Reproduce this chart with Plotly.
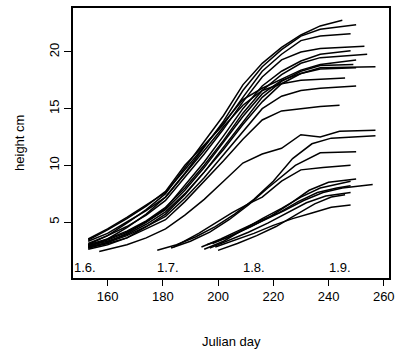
import plotly.graph_objects as go

# ---------------- data ----------------
grid = [153, 160, 167, 174, 181, 188, 195, 202, 209, 216, 223, 230, 237]

# early-sown plants (upper bundle)
u1_days = grid + [245]
u1_h = [3.0, 3.8, 4.9, 6.1, 7.5, 9.8, 12.0, 14.4, 17.1, 19.0, 20.4, 21.5, 22.3, 22.8]
u2_days = grid + [250]
u2_h = [2.8, 3.5, 4.5, 5.7, 7.2, 9.3, 11.6, 13.9, 16.6, 18.7, 20.2, 21.4, 22.0, 22.4]
u3_days = grid + [248]
u3_h = [3.4, 4.3, 5.3, 6.4, 7.7, 10.0, 11.8, 13.6, 16.0, 18.3, 19.8, 21.0, 21.4, 21.6]
u4_days = grid + [253]
u4_h = [3.1, 3.8, 4.6, 5.6, 6.9, 8.9, 11.0, 13.2, 15.6, 17.8, 19.3, 20.0, 20.3, 20.5]
u5_days = grid + [248]
u5_h = [2.7, 3.2, 4.0, 5.0, 6.2, 8.2, 10.3, 12.6, 15.0, 17.0, 18.3, 19.2, 19.8, 20.1]
u6_days = grid + [254]
u6_h = [3.0, 3.5, 4.2, 5.1, 6.3, 8.0, 10.0, 12.2, 14.6, 16.6, 18.0, 19.0, 19.5, 19.8]
u7_days = grid + [250]
u7_h = [3.5, 4.4, 5.4, 6.5, 7.6, 9.6, 11.7, 13.8, 15.8, 16.8, 17.6, 18.4, 18.9, 19.3]
u8_days = grid + [249]
u8_h = [2.6, 3.0, 3.6, 4.6, 5.7, 7.4, 9.4, 11.6, 13.9, 16.0, 17.4, 18.3, 18.8, 18.9]
u9_days = grid + [257]
u9_h = [2.9, 3.3, 3.9, 4.8, 5.9, 7.5, 9.4, 11.4, 13.6, 15.6, 17.2, 18.1, 18.6, 18.7]
u10_days = grid + [250]
u10_h = [2.9, 3.4, 4.1, 5.0, 6.1, 7.8, 9.8, 12.0, 14.3, 16.3, 17.5, 18.1, 18.5, 18.6]
u11_days = grid + [246]
u11_h = [3.3, 4.0, 5.0, 6.0, 7.2, 9.2, 11.3, 13.4, 15.3, 16.6, 17.2, 17.5, 17.6, 17.7]
u12_days = grid + [250]
u12_h = [2.8, 3.2, 3.8, 4.6, 5.5, 7.1, 8.9, 10.9, 13.0, 15.0, 16.1, 16.6, 16.8, 17.0]
u13_days = grid + [244]
u13_h = [2.7, 3.1, 3.6, 4.4, 5.2, 6.8, 8.6, 10.4, 12.3, 14.0, 14.8, 15.0, 15.2, 15.3]
u14_days = [157, 167, 174, 181, 188, 195, 202, 209, 216, 223, 230, 237, 244, 257]
u14_h = [2.4, 3.0, 3.6, 4.4, 5.6, 7.0, 8.6, 10.2, 11.0, 11.5, 12.7, 12.5, 13.0, 13.1]

# later-sown plants (lower bundle)
l1_days = [178, 185, 192, 199, 206, 213, 220, 227, 234, 241, 257]
l1_h = [2.5, 3.0, 3.7, 4.6, 5.7, 7.0, 8.6, 10.6, 11.9, 12.4, 12.6]
l2_days = [183, 190, 197, 204, 211, 218, 228, 237, 250]
l2_h = [2.7, 3.3, 4.1, 5.2, 6.5, 8.0, 10.0, 11.1, 11.2]
l3_days = [184, 193, 199, 205, 211, 216, 223, 230, 238, 248]
l3_h = [2.8, 4.0, 4.9, 5.8, 6.6, 7.2, 8.6, 9.6, 9.8, 10.0]
l4_days = [195, 202, 209, 216, 223, 230, 237, 248]
l4_h = [2.6, 3.3, 4.3, 5.3, 6.2, 7.2, 8.0, 8.6]
l5_days = [196, 203, 210, 217, 224, 231, 238, 245, 256]
l5_h = [3.0, 3.6, 4.4, 5.2, 6.0, 6.9, 7.6, 8.0, 8.3]
l6_days = [197, 204, 211, 218, 225, 232, 239, 248]
l6_h = [2.7, 3.4, 4.1, 4.9, 5.8, 6.7, 7.3, 7.6]
l7_days = [199, 206, 213, 220, 227, 234, 241, 248]
l7_h = [2.8, 3.4, 4.0, 4.7, 5.3, 5.8, 6.3, 6.5]
l8_days = [194, 201, 208, 215, 222, 229, 236, 243, 248]
l8_h = [2.8, 3.5, 4.3, 5.1, 5.8, 6.8, 7.6, 8.0, 8.2]
l9_days = [198, 205, 212, 219, 226, 233, 240, 250]
l9_h = [3.1, 3.8, 4.6, 5.5, 6.6, 7.8, 8.5, 8.8]
l10_days = [200, 207, 214, 221, 228, 235, 241, 246]
l10_h = [2.5, 3.1, 3.8, 4.6, 5.6, 6.6, 7.2, 7.4]

x_ticks = [160, 180, 200, 220, 240, 260]
y_ticks = [5, 10, 15, 20]
date_days = [152, 182, 213, 244]
date_labels = ["1.6.", "1.7.", "1.8.", "1.9."]
x_title = "Julian day"
y_title = "height cm"

curves = [
    (u1_days, u1_h), (u2_days, u2_h), (u3_days, u3_h), (u4_days, u4_h),
    (u5_days, u5_h), (u6_days, u6_h), (u7_days, u7_h), (u8_days, u8_h),
    (u9_days, u9_h), (u10_days, u10_h), (u11_days, u11_h), (u12_days, u12_h),
    (u13_days, u13_h), (u14_days, u14_h),
    (l1_days, l1_h), (l2_days, l2_h), (l3_days, l3_h), (l4_days, l4_h),
    (l5_days, l5_h), (l6_days, l6_h), (l7_days, l7_h), (l8_days, l8_h),
    (l9_days, l9_h), (l10_days, l10_h),
]

FONT = "Liberation Sans, Arial, sans-serif"

fig = go.Figure()
for d, h in curves:
    fig.add_trace(go.Scatter(x=d, y=h, mode="lines",
                             line=dict(color="black", width=1.5),
                             showlegend=False, hoverinfo="skip"))

for d, lab in zip(date_days, date_labels):
    fig.add_annotation(x=d, y=0.95, text=lab, showarrow=False,
                       xanchor="center", yanchor="middle",
                       font=dict(family=FONT, size=13, color="#000000"))

# axis titles placed as paper-anchored text
fig.add_annotation(x=0.5, y=-0.237, xref="paper", yref="paper", text=x_title,
                   showarrow=False, xanchor="center", yanchor="middle",
                   font=dict(family=FONT, size=13, color="#000000"))
fig.add_annotation(x=-0.171, y=0.5, xref="paper", yref="paper", text=y_title,
                   showarrow=False, xanchor="center", yanchor="middle",
                   textangle=-90,
                   font=dict(family=FONT, size=13, color="#000000"))

fig.update_layout(
    width=396, height=351,
    margin=dict(l=73, r=7, t=8, b=73),
    paper_bgcolor="white", plot_bgcolor="white",
    font=dict(family=FONT, size=13, color="black"),
    showlegend=False,
)
fig.update_xaxes(
    range=[147.5, 261.9], tickvals=x_ticks, ticks="outside", ticklen=6,
    tickwidth=1.3, tickcolor="black", showgrid=False, zeroline=False,
    showline=True, linecolor="black", linewidth=1.5, mirror=True,
    automargin=False, tickfont=dict(family=FONT, size=13),
)
fig.update_yaxes(
    range=[0.06, 23.88], tickvals=y_ticks, ticks="outside", ticklen=7,
    tickwidth=1.3, tickcolor="black", showgrid=False, zeroline=False,
    showline=True, linecolor="black", linewidth=1.5, mirror=True,
    tickangle=-90, automargin=False, tickfont=dict(family=FONT, size=13),
)

fig.write_html("out.html")
